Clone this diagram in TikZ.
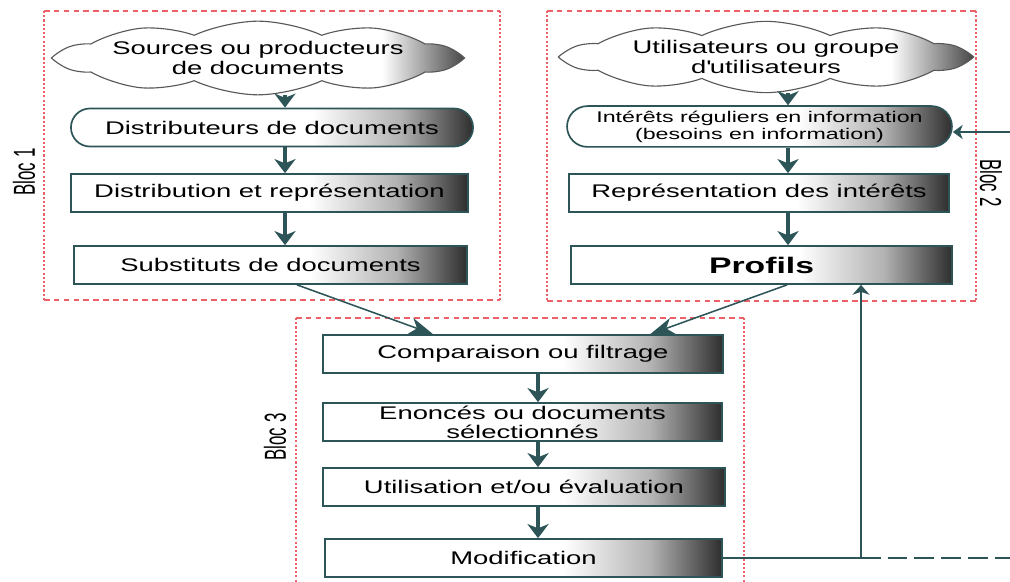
\documentclass[tikz,border=0pt]{standalone}
\usepackage{fontspec}
\setmainfont{Liberation Sans}[FakeStretch=1.5]
\newfontfamily\blocfont{Liberation Sans}
\usetikzlibrary{arrows.meta,shapes.symbols,shapes.misc}
\definecolor{edgeteal}{HTML}{2D5558}
\definecolor{blocred}{HTML}{EC6068}
\pgfdeclarehorizontalshading{boxfade}{100bp}{color(0bp)=(white); color(55bp)=(white); color(66bp)=(black!30); color(75bp)=(black!82); color(100bp)=(black!82)}
\pgfdeclarehorizontalshading{cloudfade}{100bp}{color(0bp)=(white); color(65bp)=(white); color(75bp)=(black!72); color(100bp)=(black!72)}
\def\blocframe(#1,#2)(#3,#4){\draw[blocline] (#1,#2) -- (#3,#2); \draw[blocline] (#1,#4) -- (#3,#4); \draw[blocside] (#1,#2) -- (#1,#4); \draw[blocside] (#3,#2) -- (#3,#4);}
\tikzset{
  stepbox/.style={rectangle, draw=edgeteal, line width=1.2pt, shading=boxfade, minimum height=0.95cm, inner sep=0pt, align=center, font=\fontsize{13}{13.5}\selectfont},
  roundbox/.style={stepbox, rounded rectangle},
  cloudbox/.style={cloud, cloud puffs=10, cloud puff arc=50, cloud ignores aspect, draw=black!65, line width=0.8pt, shading=cloudfade, inner sep=0pt, align=center, font=\fontsize{13}{14.5}\selectfont},
  flow/.style={draw=edgeteal, line width=2.2pt, -{Stealth[length=10pt,width=15pt,inset=3pt]}},
  feed/.style={draw=edgeteal, line width=1.1pt, -{Stealth[length=17pt,width=12pt,inset=5pt]}},
  back/.style={draw=edgeteal, line width=1.3pt},
  blocline/.style={draw=blocred, line width=0.9pt, dash pattern=on 4pt off 3pt},
  blocside/.style={draw=blocred, line width=0.9pt, dash pattern=on 1.5pt off 1.5pt},
  bloclabel/.style={font=\blocfont\fontsize{12}{12}\selectfont, inner sep=0pt}
}

\begin{document}
\begin{tikzpicture}[x=0.025cm, y=-0.025cm]
			%%%%% START %%%%%
			\useasboundingbox (0,0) rectangle (1010,582);
			
			\blocframe(44,11)(500,300)
			\blocframe(547,11)(976,301)
			\draw[blocline] (296,318) -- (744,318);
			\draw[blocside] (296,318) -- (296,582);
			\draw[blocside] (744,318) -- (744,582);
			
			\node[bloclabel, rotate=90] (bloc1) at (24,172) {\scalebox{1}[1.8]{Bloc 1}};
			\node[bloclabel, rotate=-90] (bloc2) at (991,183) {\scalebox{1}[1.8]{Bloc 2}};
			\node[bloclabel, rotate=90] (bloc3) at (275,437) {\scalebox{1}[1.8]{Bloc 3}};
			
			\coordinate (colA) at (285,0);
			\coordinate (colB) at (788,0);
			\coordinate (colC) at (538,0);
			
			\node[cloudbox, minimum width=9.9cm, minimum height=1.55cm] (src) at (258,58) {Sources ou producteurs\\de documents};
			\node[roundbox, minimum width=10.05cm] (dist) at (272,127.5) {Distributeurs de documents};
			\node[stepbox, minimum width=9.92cm] (repr) at (269.5,193) {Distribution et représentation};
			\node[stepbox, minimum width=9.82cm] (subst) at (270.5,265) {Substituts de documents};
			
			\node[cloudbox, minimum width=9.95cm, minimum height=1.5cm] (users) at (766,57) {Utilisateurs ou groupe\\d\textquotesingle utilisateurs};
			\node[roundbox, minimum width=9.62cm, minimum height=1.02cm, font=\fontsize{11}{12}\selectfont] (inter) at (759.5,126.5) {Intérêts réguliers en information\\(besoins en information)};
			\node[stepbox, minimum width=9.5cm] (reprint) at (759,193) {Représentation des intérêts};
			\node[stepbox, minimum width=9.52cm, font=\bfseries\fontsize{16}{18}\selectfont] (prof) at (761.5,265) {Profils};
			
			\node[stepbox, minimum width=10cm] (comp) at (523,354) {Comparaison ou filtrage};
			\node[stepbox, minimum width=9.98cm] (enon) at (522.5,422) {Enoncés ou documents\\sélectionnés};
			\node[stepbox, minimum width=10.05cm] (util) at (524,487) {Utilisation et/ou évaluation};
			\node[stepbox, minimum width=9.92cm] (modif) at (523.5,558) {Modification};
			
			\draw[flow] (src.south -| colA) -- (dist.north -| colA);
			\draw[flow] (dist.south -| colA) -- (repr.north -| colA);
			\draw[flow] (repr.south -| colA) -- (subst.north -| colA);
			
			\draw[flow] (users.south -| colB) -- (inter.north -| colB);
			\draw[flow] (inter.south -| colB) -- (reprint.north -| colB);
			\draw[flow] (reprint.south -| colB) -- (prof.north -| colB);
			
			\draw[flow] (comp.south -| colC) -- (enon.north -| colC);
			\draw[flow] (enon.south -| colC) -- (util.north -| colC);
			\draw[flow] (util.south -| colC) -- (modif.north -| colC);
			
			\draw[feed] ([xshift=0.66cm]subst.south) -- ([xshift=-2.25cm]comp.north);
			\draw[feed] ([xshift=0.64cm]prof.south) -- ([xshift=3.18cm]comp.north);
			
			\coordinate (fb) at (861,558);
			\coordinate (fbend) at (1010,558);
			\coordinate (inend) at (1010,132);
			\draw[back] (modif.east) -- (fb);
			\draw[back, -{Stealth[length=7pt,width=12pt,inset=2pt]}] (fb) -- (fb |- prof.south);
			\draw[back, dash pattern=on 14pt off 5pt] (fb) -- (fbend);
			\draw[back, -{Stealth[length=7pt,width=10pt,inset=2pt]}] (inend) -- (inter.east |- inend);
			
			%%%%% END %%%%%
\end{tikzpicture}
\end{document}
